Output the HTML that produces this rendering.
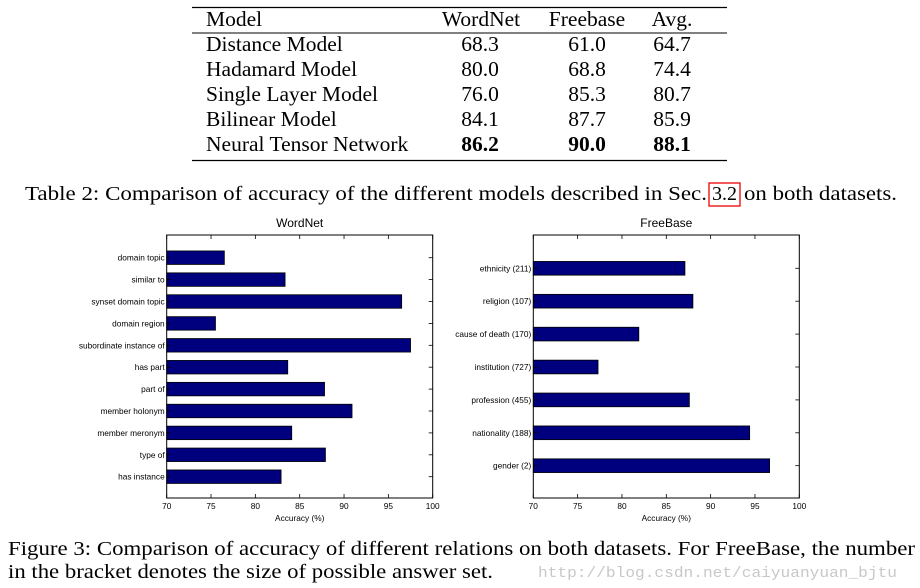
<!DOCTYPE html>
<html><head><meta charset="utf-8"><style>
body{margin:0;background:#fff}
svg{display:block;font-family:"Liberation Sans",sans-serif}
.serif{font-family:"Liberation Serif",serif}
</style></head><body>
<svg id="root" width="920" height="588" viewBox="0 0 920 588">
<g class="serif" font-size="21.5" fill="#000">
<line x1="192" y1="7.5" x2="727" y2="7.5" stroke="#000" stroke-width="1.3"/>
<line x1="192" y1="33" x2="727" y2="33" stroke="#000" stroke-width="1"/>
<line x1="192" y1="160.5" x2="727" y2="160.5" stroke="#000" stroke-width="1.3"/>
<text x="206" y="26">Model</text><text x="481" y="26" text-anchor="middle">WordNet</text><text x="587" y="26" text-anchor="middle">Freebase</text><text x="672" y="26" text-anchor="middle">Avg.</text>
<text x="206" y="51">Distance Model</text><text x="480" y="51" text-anchor="middle">68.3</text><text x="587" y="51" text-anchor="middle">61.0</text><text x="672" y="51" text-anchor="middle">64.7</text>
<text x="206" y="76">Hadamard Model</text><text x="480" y="76" text-anchor="middle">80.0</text><text x="587" y="76" text-anchor="middle">68.8</text><text x="672" y="76" text-anchor="middle">74.4</text>
<text x="206" y="101">Single Layer Model</text><text x="480" y="101" text-anchor="middle">76.0</text><text x="587" y="101" text-anchor="middle">85.3</text><text x="672" y="101" text-anchor="middle">80.7</text>
<text x="206" y="126">Bilinear Model</text><text x="480" y="126" text-anchor="middle">84.1</text><text x="587" y="126" text-anchor="middle">87.7</text><text x="672" y="126" text-anchor="middle">85.9</text>
<text x="206" y="151">Neural Tensor Network</text><text x="480" y="151" text-anchor="middle" font-weight="bold">86.2</text><text x="587" y="151" text-anchor="middle" font-weight="bold">90.0</text><text x="672" y="151" text-anchor="middle" font-weight="bold">88.1</text>
</g>
<g class="serif" font-size="20">
<text x="25" y="200" textLength="682" lengthAdjust="spacingAndGlyphs">Table 2: Comparison of accuracy of the different models described in Sec.</text>
<rect x="709" y="183" width="31" height="23" fill="none" stroke="#e00" stroke-width="1.3"/>
<text x="712" y="200">3.2</text>
<text x="744" y="200" textLength="153" lengthAdjust="spacingAndGlyphs">on both datasets.</text>
</g>
<g id="wn"></g>
<g id="fb"></g>
<g class="serif" font-size="20">
<text x="8" y="555" textLength="907" lengthAdjust="spacingAndGlyphs">Figure 3: Comparison of accuracy of different relations on both datasets. For FreeBase, the number</text>
<text x="8" y="578" textLength="485" lengthAdjust="spacingAndGlyphs">in the bracket denotes the size of possible answer set.</text>
</g>
<text x="538" y="577" font-family="Liberation Mono,monospace" font-size="15" fill="#c8c8c8" textLength="359" lengthAdjust="spacingAndGlyphs">http://blog.csdn.net/caiyuanyuan_bjtu</text>
</svg>
<script>
const wnCategories=["domain topic","similar to","synset domain topic","domain region","subordinate instance of","has part","part of","member holonym","member meronym","type of","has instance"];
const wnValues=[76.5,83.35,96.5,75.5,97.5,83.65,87.8,90.9,84.1,87.9,82.9];
const fbCategories=["ethnicity (211)","religion (107)","cause of death (170)","institution (727)","profession (455)","nationality (188)","gender (2)"];
const fbValues=[87.1,88.0,81.9,77.3,87.6,94.4,96.65];
const xTicks=[70,75,80,85,90,95,100];
const NS="http://www.w3.org/2000/svg";
function mk(p,t,a){const e=document.createElementNS(NS,t);for(const k in a)e.setAttribute(k,a[k]);p.appendChild(e);return e;}
function chart(g,title,cats,vals,L,R,T,B,firstY,step,bh){
  const xs=v=>L+(v-70)/30*(R-L);
  const ys=i=>firstY+i*step;
  const t=mk(g,'text',{x:(L+R)/2,y:T-8,'text-anchor':'middle','font-size':12});t.textContent=title;
  
  
  cats.forEach((c,i)=>{
    const r=mk(g,'rect',{x:L,y:ys(i)-bh/2,width:xs(vals[i])-L,height:bh,fill:'#00007f',stroke:'#000','stroke-width':0.8});
    
    
    const lb=mk(g,'text',{x:L-2,y:ys(i)+3,'text-anchor':'end','font-size':8.3});lb.textContent=c;
    
    
    mk(g,'line',{x1:L,x2:L+4,y1:ys(i),y2:ys(i),stroke:'#000','stroke-width':0.8});
    mk(g,'line',{x1:R,x2:R-4,y1:ys(i),y2:ys(i),stroke:'#000','stroke-width':0.8});
  });
  const f=mk(g,'rect',{x:L,y:T,width:R-L,height:B-T,fill:'none',stroke:'#000','stroke-width':1});
  
  
  xTicks.forEach(v=>{
    mk(g,'line',{x1:xs(v),x2:xs(v),y1:B,y2:B-4,stroke:'#000','stroke-width':0.8});
    mk(g,'line',{x1:xs(v),x2:xs(v),y1:T,y2:T+4,stroke:'#000','stroke-width':0.8});
    const tl=mk(g,'text',{x:xs(v),y:B+11,'text-anchor':'middle','font-size':8.3});tl.textContent=v;
    
    
  });
  const xt=mk(g,'text',{x:(L+R)/2,y:B+23,'text-anchor':'middle','font-size':8.3});xt.textContent='Accuracy (%)';
  
  
}
chart(document.getElementById('wn'),'WordNet',wnCategories,wnValues,166.7,432.7,235,498,257.7,21.9,13.5);
chart(document.getElementById('fb'),'FreeBase',fbCategories,fbValues,533.3,799.3,235,498,268.3,32.9,13.7);
</script>
</body></html>
